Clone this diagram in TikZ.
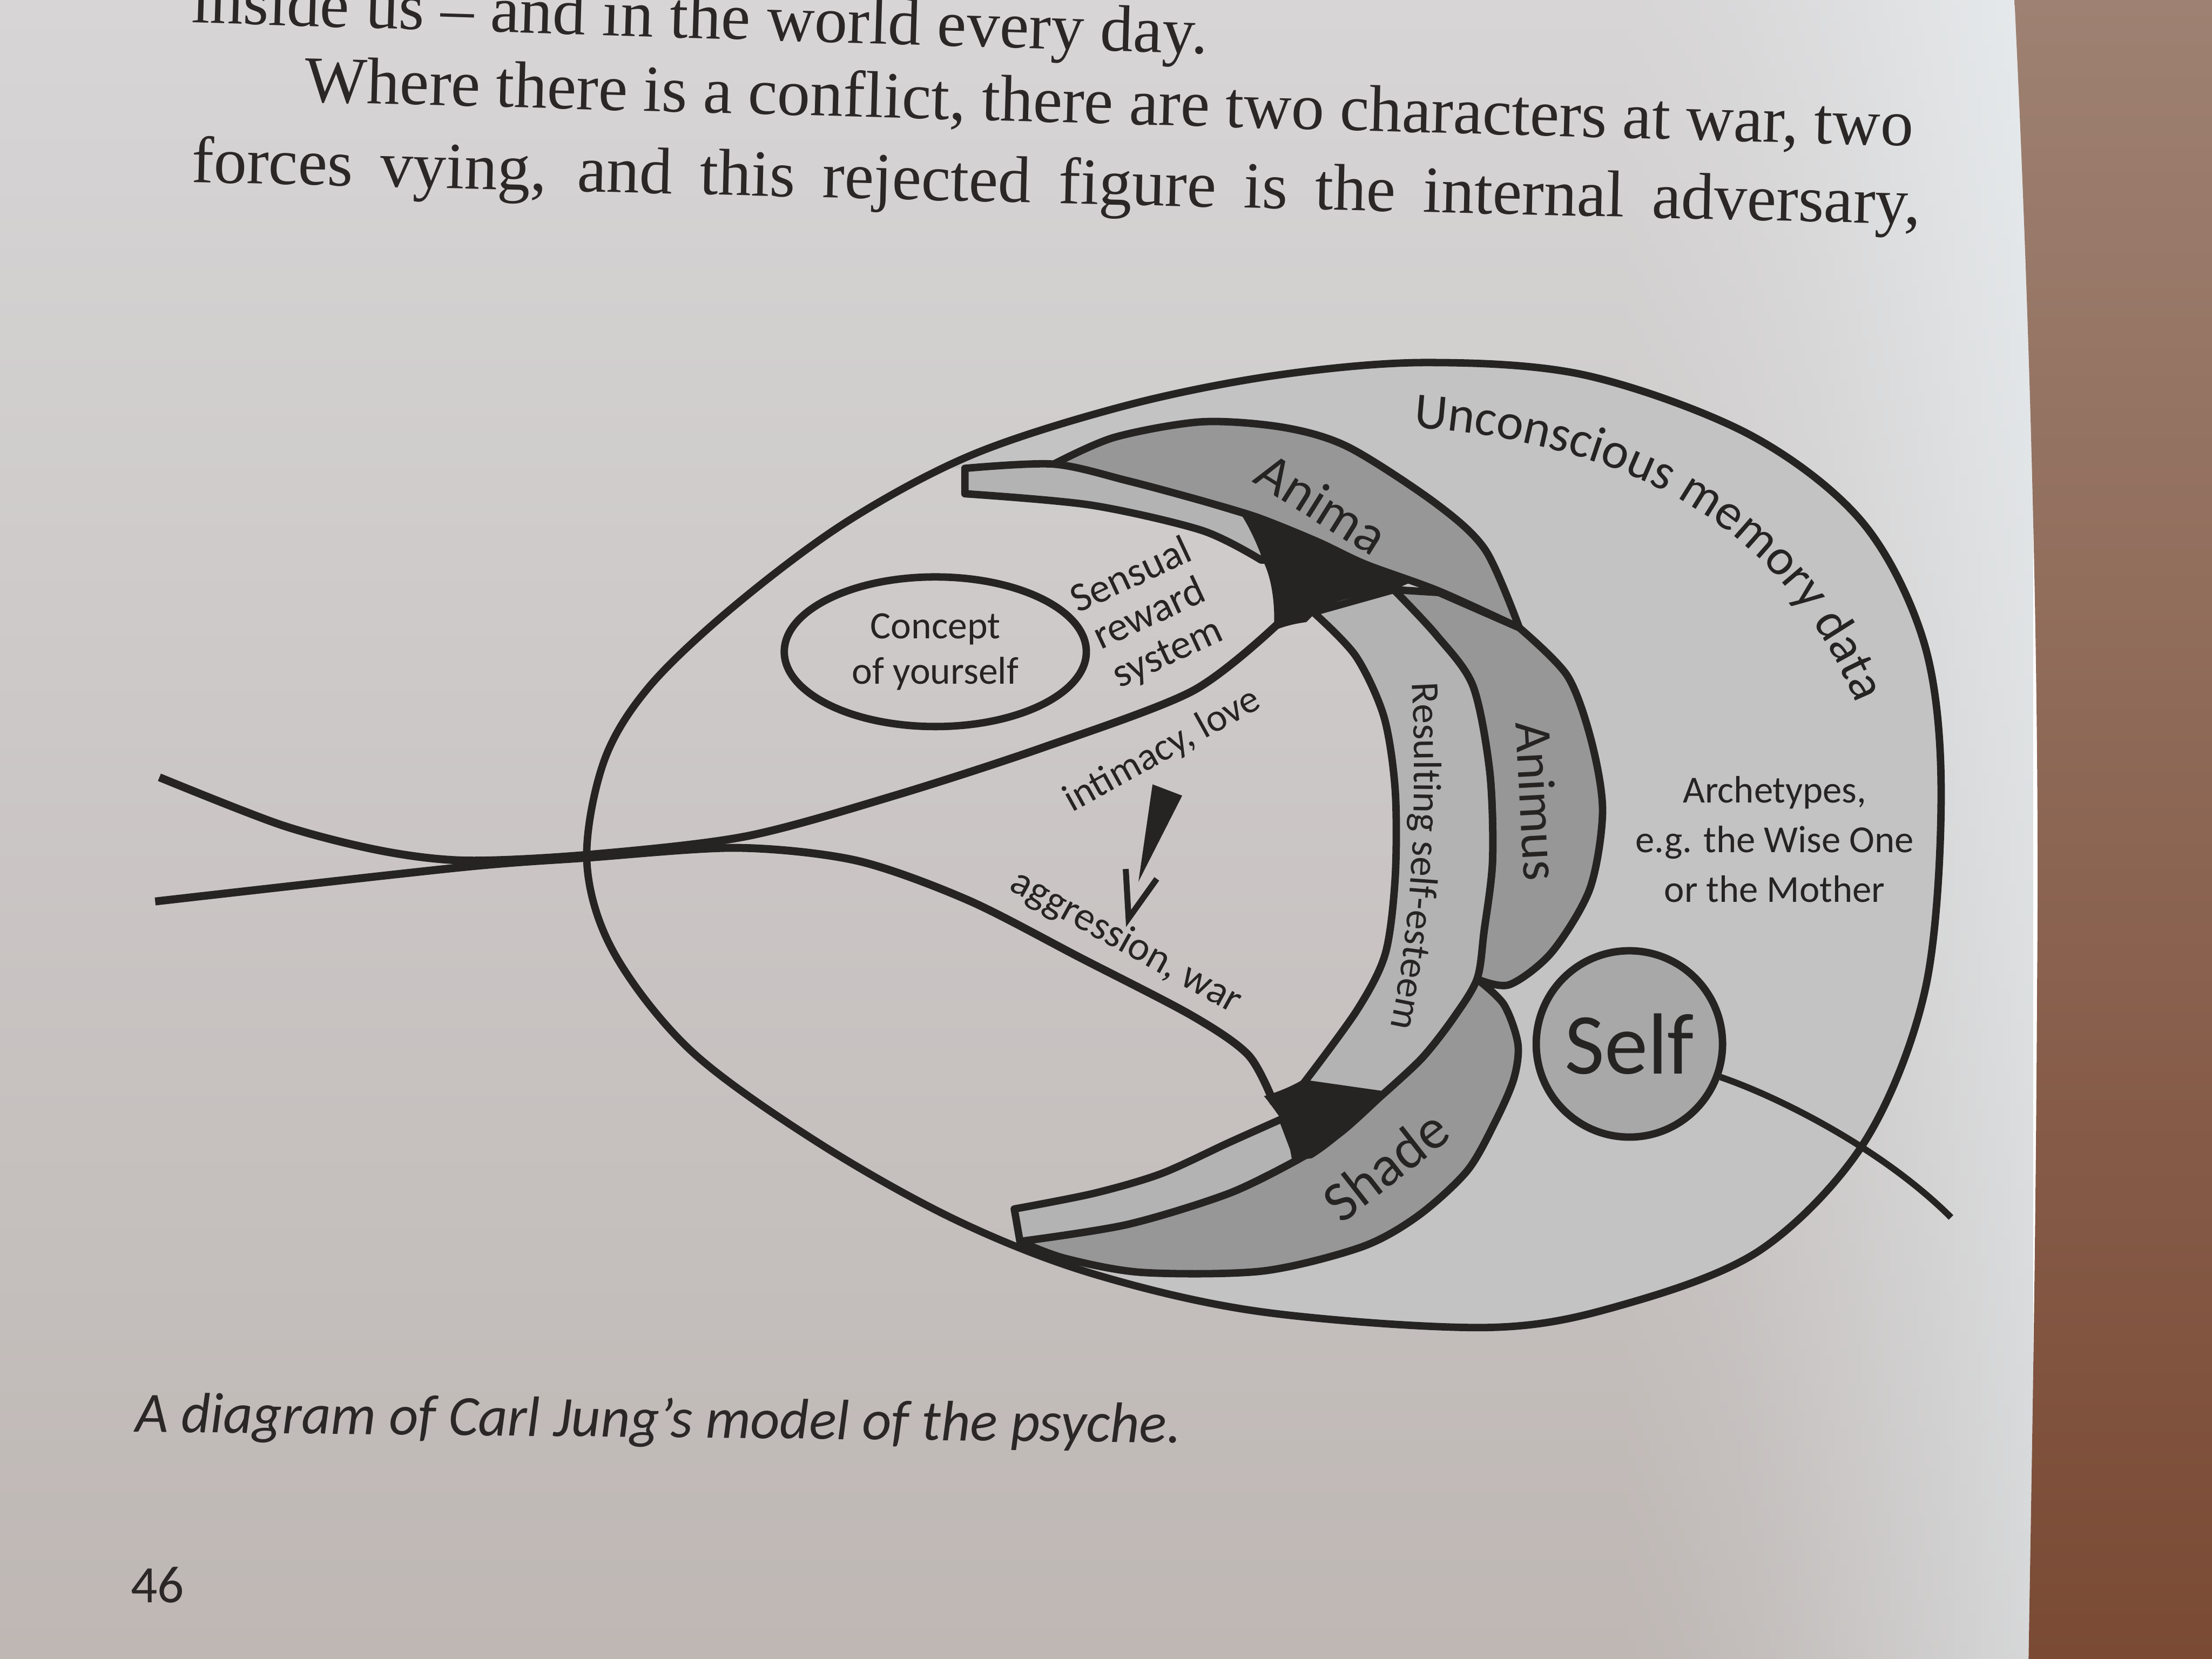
\documentclass[tikz,border=0pt]{standalone}
\usepackage{fontspec}
\setmainfont{Liberation Serif}
\newfontfamily\diagfont{Carlito}
\usetikzlibrary{shapes.geometric,decorations.text}

\definecolor{paper}{HTML}{D7D5D6}
\definecolor{paperlow}{HTML}{BEB7B4}
\definecolor{paperedge}{HTML}{E6EAEC}
\definecolor{paperedgelow}{HTML}{D6D7D8}
\definecolor{desk}{HTML}{9E8172}
\definecolor{desklow}{HTML}{7A4A34}
\definecolor{ink}{HTML}{262323}
\definecolor{printink}{HTML}{2B2727}
\definecolor{ucgrey}{HTML}{C3C3C4}
\definecolor{bandgrey}{HTML}{B3B3B3}
\definecolor{archgrey}{HTML}{979797}
\definecolor{selfgrey}{HTML}{A8A8A8}

\begin{document}
\begin{tikzpicture}[x=0.01cm, y=-0.01cm,
		outline/.style={draw=ink, line width=1.5pt, line join=round},
		diaglabel/.style={text=ink, align=center, inner sep=0pt},
		bodyline/.style={text=printink, anchor=base west, inner sep=0pt,
			font=\fontsize{13.3}{16}\selectfont}]

		\useasboundingbox (0,0) rectangle (1568,1176);

		% the page, lighter towards its edge, and the desk behind it
		\shade [top color=paper, bottom color=paperlow] (0,0) rectangle (1142,1176);
		\foreach \k in {0,...,59} {
			\pgfmathtruncatemacro\p{100*(\k/59)^1.4}
			\shade [top color=paperedge!\p!paper, bottom color=paperedgelow!\p!paperlow]
				(1140+5*\k,0) rectangle (1146+5*\k,1176);
		}
		\shade [top color=desk, bottom color=desklow] (1428,0) .. controls (1440,250) and (1446,500) .. (1444,700)
			.. controls (1443,900) and (1440,1050) .. (1438,1176) -- (1568,1176) -- (1568,0) -- cycle;

		% running text
		\node [bodyline, rotate=-1.76] (line1) at (135,16) {inside us – and in the world every day.};
		\node [bodyline, rotate=-1.58] (line2) at (215,72)
			{\makebox[11.40cm][s]{Where there is a conflict, there are two characters at war, two}};
		\node [bodyline, rotate=-1.4] (line3) at (135,129)
			{\makebox[12.25cm][s]{forces vying, and this rejected figure is the internal adversary,}};

		\def\egg{plot [smooth cycle, tension=0.55] coordinates {(416,611) (428,540) (460,487) (520,430)
			(600,370) (690,322) (800,287) (905,266) (1011,257) (1124,266) (1240,308) (1320,370) (1364,456)
			(1376,560) (1365,700) (1322,809) (1248,886) (1150,925) (1055,941) (895,930) (775,903) (678,865)
			(580,810) (490,745) (435,675)}}

		% unconscious part of the egg
		\begin{scope}
			\clip \egg;
			\fill [ucgrey, even odd rule] (300,200) rectangle (1450,1000)
				(380,332) -- (684,332) -- (684,350)
				-- plot [smooth] coordinates {(684,350) (773,358) (852,376) (894,397)} -- (899,406) -- (931,436)
				-- plot [smooth] coordinates {(931,436) (961,465) (981,508) (989,560) (989,622) (982,676) (962,716) (924,768)}
				-- (909,793)
				-- plot [smooth] coordinates {(909,793) (871,810) (823,832) (775,846) (719,857)}
				-- (719,885) -- (380,885) -- cycle;
		\end{scope}

		% anima, animus, shade
		\filldraw [outline, fill=archgrey]
			plot [smooth] coordinates {(747,329) (790,310) (852,299) (910,303) (956,317) (1018,357) (1053,390) (1077,445)}
			-- plot [smooth] coordinates {(1077,445) (1020,419) (968,400) (934,384) (892,367) (852,355) (800,341) (747,329)}
			-- cycle;
		\filldraw [outline, fill=archgrey]
			plot [smooth] coordinates {(1077,445) (1111,479) (1128,525) (1136,575) (1127,630) (1100,675) (1070,698) (1047,694)}
			-- plot [smooth] coordinates {(1047,694) (1052,660) (1058,610) (1056,547) (1044,486) (1018,450) (988,418)}
			-- (1020,420) -- cycle;
		\filldraw [outline, fill=archgrey]
			plot [smooth] coordinates {(1047,694) (1066,712) (1076,740) (1073,765) (1060,795) (1040,830) (1005,862)
				(965,884) (895,901) (810,902) (755,892) (723,880)}
			-- plot [smooth] coordinates {(723,880) (799,868) (871,846) (920,822) (950,803) (980,776) (1008,750) (1030,722) (1047,694)}
			-- cycle;

		% self-esteem and the two thin bands
		\filldraw [outline, fill=bandgrey]
			plot [smooth] coordinates {(931,434) (961,465) (981,508) (989,560) (989,622) (982,676) (962,716) (924,768)}
			-- (980,776)
			-- plot [smooth] coordinates {(980,776) (1008,750) (1030,722) (1047,694) (1052,660) (1058,610) (1056,547) (1044,486) (1018,450) (988,418)}
			-- cycle;
		\filldraw [outline, fill=bandgrey] (684,350) -- (684,332)
			-- plot [smooth] coordinates {(684,332) (747,329) (800,341) (852,355) (892,367)}
			-- (897,397)
			-- plot [smooth] coordinates {(894,397) (852,376) (773,358) (684,350)} -- cycle;
		\filldraw [outline, fill=bandgrey]
			plot [smooth] coordinates {(719,857) (775,846) (823,832) (871,810) (909,793)}
			-- (920,822)
			-- plot [smooth] coordinates {(920,822) (871,846) (799,868) (723,880)} -- cycle;

		% black knots
		\fill [ink] (880,365) .. controls (930,381) and (965,398) .. (1006,411)
			.. controls (996,414) and (990,417) .. (986,421)
			.. controls (966,421) and (945,425) .. (933,434) -- (926,441)
			.. controls (918,442) and (910,444) .. (903,447)
			.. controls (904,430) and (902,412) .. (896,399)
			.. controls (892,388) and (887,376) .. (880,365) -- cycle;
		\fill [ink] (896,777) .. controls (906,774) and (916,770) .. (924,765)
			.. controls (940,773) and (962,774) .. (984,774)
			.. controls (968,790) and (948,810) .. (930,821) -- (916,823)
			.. controls (914,812) and (912,800) .. (908,793)
			.. controls (905,789) and (901,783) .. (896,777) -- cycle;

		\draw [outline] \egg;

		% the two lines coming in from the left
		\draw [outline, line width=1.6pt] plot [smooth] coordinates {(113,551) (200,585) (270,603) (330,610) (416,606)
			(528,593) (634,564) (739,530) (845,490) (905,443)};
		\draw [outline, line width=1.6pt] plot [smooth] coordinates {(110,639) (325,615) (416,608) (522,601)
			(607,610) (686,638) (766,679) (845,720) (885,748) (903,782)};

		\node [draw=ink, line width=1.5pt, ellipse, minimum width=2.14cm, minimum height=1.06cm,
			diaglabel, font=\diagfont\fontsize{7.8}{9.2}\selectfont] (concept) at (663,462) {Concept\\of yourself};

		\node [diaglabel, rotate=25, font=\diagfont\fontsize{8.3}{8.6}\selectfont] (sensual) at (815,436)
			{Sensual\\reward\\system};
		\node [diaglabel, rotate=29, font=\diagfont\fontsize{7.9}{9}\selectfont] (intimacy) at (824,532) {intimacy, love};
		\node [diaglabel, rotate=-29, font=\diagfont\fontsize{8.2}{9}\selectfont] (aggression) at (798,668) {aggression, war};

		% the arrow between them
		\fill [ink] (817,556) -- (838,564) -- (807,625) -- cycle;
		\draw [ink, line width=1.2pt] (798,616) -- (800,651) -- (820,623);

		\node [diaglabel, rotate=-32, font=\diagfont\fontsize{11}{12}\selectfont] (anima) at (937,357) {Anima};
		\node [diaglabel, rotate=-87, font=\diagfont\fontsize{10.5}{12}\selectfont] (animus) at (1090,568) {Animus};
		\node [diaglabel, rotate=38, font=\diagfont\fontsize{11.5}{12}\selectfont] (shade) at (982,826) {Shade};

		\path [decorate, decoration={text along path, text align=center,
			text={|\color{ink}\diagfont\fontsize{8}{9}\selectfont|Resulting self-esteem}}]
			(1000,470) .. controls (1006,560) and (1002,665) .. (982,742);
		\path [decorate, decoration={text along path, text align=center,
			text={|\color{ink}\diagfont\fontsize{10.3}{12}\selectfont|Unconscious memory data}}]
			(985,302) .. controls (1150,310) and (1270,370) .. (1322,515);

		\node [diaglabel, font=\diagfont\fontsize{7.7}{10}\selectfont] (archetypes) at (1258,595)
			{Archetypes,\\e.g. the Wise One\\or the Mother};

		\node [circle, draw=ink, line width=1.5pt, fill=selfgrey, minimum size=1.32cm, inner sep=0pt,
			text=ink, font=\diagfont\fontsize{17.5}{20}\selectfont] (self) at (1155,740) {Self};
		\draw [ink, line width=1.3pt] (self.-20) .. controls (1262,778) and (1335,815) .. (1383,863);

		% caption and folio
		\node [anchor=base west, inner sep=0pt, text=printink, rotate=-0.6,
			font=\diagfont\itshape\fontsize{11.5}{14}\selectfont] (caption) at (95,1015)
			{A diagram of Carl Jung’s model of the psyche.};
		\node [anchor=base west, inner sep=0pt, text=printink,
			font=\diagfont\fontsize{10.6}{12}\selectfont] (folio) at (92,1136) {46};
	\end{tikzpicture}
\end{document}
